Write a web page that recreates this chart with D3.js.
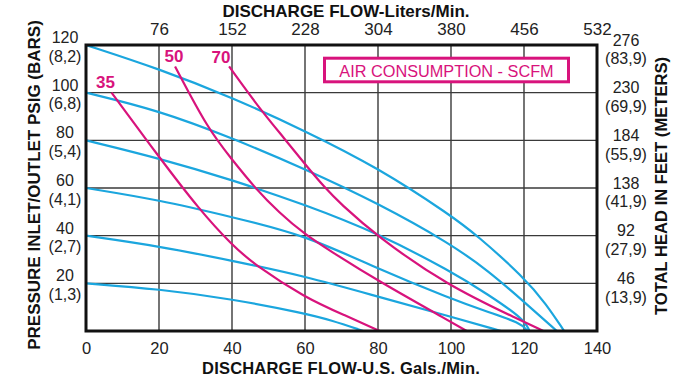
<!DOCTYPE html>
<html><head><meta charset="utf-8">
<script src="https://cdn.jsdelivr.net/npm/d3@7/dist/d3.min.js"></script>
<style>body{margin:0;background:#fff} svg{display:block}</style>
</head><body><svg id="c" width="700" height="385"></svg>
<script>
// ---- data ----
const flowGpmTicks = [0,20,40,60,80,100,120,140];
const flowLpmTicks = [76,152,228,304,380,456,532];
const psiTicks = [20,40,60,80,100,120];
const barLabels = ["(1,3)","(2,7)","(4,1)","(5,4)","(6,8)","(8,2)"];
const feetTicks = [46,92,138,184,230,276];
const meterLabels = ["(13,9)","(27,9)","(41,9)","(55,9)","(69,9)","(83,9)"];

// head curves: [U.S. gpm, psig]
const psi20  = [[0,20],[20,17.6],[40,13.4],[60,7.4],[67,4.6],[76,0]];
const psi40  = [[0,40],[20,35.6],[40,29.5],[60,23],[80,14.4],[100,6],[113.7,0]];
const psi60  = [[0,60],[20,55],[40,47.8],[60,40.3],[80,26],[100,13.5],[110,8],[119,3.5],[121,0]];
const psi80  = [[0,80],[20,72.5],[40,63.4],[60,53],[80,41],[100,25],[110,15.5],[120,5],[121.5,0]];
const psi100 = [[0,100],[20,92.5],[40,81],[60,68],[80,53.6],[100,36.5],[110,25.5],[120,12.3],[129,0]];
const psi120 = [[0,120],[20,110],[40,98],[60,84],[80,68.5],[100,48.5],[107,40.3],[120,22.5],[126,11.5],[131,0]];
const headCurves = [psi20, psi40, psi60, psi80, psi100, psi120];

// air consumption curves (SCFM)
const scfmLabels = ["35","50","70"];
const scfm35 = [[7,100],[20,73],[31,51],[40,36],[46.3,27.7],[60,14],[71,6.5],[80.5,0]];
const scfm50 = [[24.4,111],[33.5,84.5],[40,72],[46,60.5],[53,49.5],[60,40.5],[67,33.5],[80,21],[100,3.8],[104.3,0]];
const scfm70 = [[39.2,111],[47.2,94],[54.5,80.5],[60,70],[65.5,60],[69.6,53.6],[79.5,40],[99,19],[119.5,4.2],[125.3,0]];
const airCurves = [scfm35, scfm50, scfm70];

// ---- layout ----
const svg = d3.select("#c");
const L = 86, R = 597, T = 45, B = 331;
const x = d3.scaleLinear().domain([0,140]).range([L,R]);
const y = d3.scaleLinear().domain([0,120]).range([B,T]);
const xTop = d3.scaleLinear().domain([0,532]).range([L,R]);
const yRight = d3.scaleLinear().domain([0,276]).range([B,T]);

const BLUE = "#1ba6de", MAG = "#d8137c";
const numFont = "'Liberation Sans Narrow','Liberation Sans',Arial,sans-serif";
const boldFont = "'Liberation Sans',Arial,sans-serif";

// grid
const grid = svg.append("g").attr("stroke","#3a3a3a").attr("stroke-width",1.4);
grid.selectAll("line.v").data(flowGpmTicks.slice(1,-1)).join("line")
  .attr("x1",d=>x(d)).attr("x2",d=>x(d)).attr("y1",T).attr("y2",B);
grid.selectAll("line.h").data(psiTicks.slice(0,-1)).join("line")
  .attr("y1",d=>y(d)).attr("y2",d=>y(d)).attr("x1",L).attr("x2",R);

// clip
svg.append("clipPath").attr("id","clip").append("rect")
  .attr("x",L).attr("y",T).attr("width",R-L).attr("height",B-T);

const line = d3.line().x(d=>x(d[0])).y(d=>y(d[1])).curve(d3.curveBasis);
const curves = svg.append("g").attr("clip-path","url(#clip)").attr("fill","none");
curves.selectAll("path.h").data(headCurves).join("path")
  .attr("d",line).attr("stroke",BLUE).attr("stroke-width",2.2);
curves.selectAll("path.a").data(airCurves).join("path")
  .attr("d",line).attr("stroke",MAG).attr("stroke-width",2.2);

// border
svg.append("rect").attr("x",L).attr("y",T).attr("width",R-L).attr("height",B-T)
  .attr("fill","none").attr("stroke","#111").attr("stroke-width",3);

// bottom axis
const gb = svg.append("g").attr("transform",`translate(0,${B})`)
  .call(d3.axisBottom(x).tickValues(flowGpmTicks).tickSize(0).tickPadding(0));
gb.select(".domain").remove();
gb.selectAll("text").attr("dy",null).attr("y",23.3).attr("font-family",numFont).attr("font-size",16.5).attr("fill","#222");

// top axis
const gt = svg.append("g").attr("transform",`translate(0,${T})`)
  .call(d3.axisTop(xTop).tickValues(flowLpmTicks).tickSize(0).tickPadding(10));
gt.select(".domain").remove();
gt.selectAll("text").attr("font-family",numFont).attr("font-size",17).attr("fill","#222");

// left axis (psig + bars)
const gl = svg.append("g").attr("transform",`translate(${L},0)`)
  .call(d3.axisLeft(y).tickValues(psiTicks).tickSize(0).tickFormat(d=>d));
gl.select(".domain").remove();
gl.selectAll(".tick text").attr("x",-21).attr("dy",null).attr("y",-2.5)
  .attr("text-anchor","middle").attr("font-family",numFont).attr("font-size",16).attr("fill","#222");
gl.selectAll(".tick").append("text").text(d=>barLabels[psiTicks.indexOf(d)])
  .attr("x",-21).attr("y",16.2).attr("text-anchor","middle")
  .attr("font-family",numFont).attr("font-size",16).attr("fill","#222");

// right axis (feet + meters)
const gr = svg.append("g").attr("transform",`translate(${R},0)`)
  .call(d3.axisRight(yRight).tickValues(feetTicks).tickSize(0).tickFormat(d=>d));
gr.select(".domain").remove();
gr.selectAll(".tick text").attr("x",29).attr("dy",null).attr("y",0)
  .attr("text-anchor","middle").attr("font-family",numFont).attr("font-size",16).attr("fill","#222");
gr.selectAll(".tick").append("text").text(d=>meterLabels[feetTicks.indexOf(d)])
  .attr("x",29).attr("y",18.7).attr("text-anchor","middle")
  .attr("font-family",numFont).attr("font-size",16).attr("fill","#222");

// axis titles
svg.append("text").attr("x",346).attr("y",16.5).attr("text-anchor","middle")
  .attr("font-family",boldFont).attr("font-weight","bold").attr("font-size",17).attr("fill","#111")
  .text("DISCHARGE FLOW-Liters/Min.");
svg.append("text").attr("x",341).attr("y",374).attr("text-anchor","middle")
  .attr("font-family",boldFont).attr("font-weight","bold").attr("font-size",16.5)
  .attr("letter-spacing",0.2).attr("fill","#111")
  .text("DISCHARGE FLOW-U.S. Gals./Min.");
svg.append("text").attr("transform","translate(40,185) rotate(-90)").attr("text-anchor","middle")
  .attr("font-family",boldFont).attr("font-weight","bold").attr("font-size",17).attr("fill","#111")
  .text("PRESSURE INLET/OUTLET PSIG (BARS)");
svg.append("text").attr("transform","translate(667,186) rotate(-90)").attr("text-anchor","middle")
  .attr("font-family",boldFont).attr("font-weight","bold").attr("font-size",16.6).attr("fill","#111")
  .text("TOTAL HEAD IN FEET (METERS)");

// SCFM curve labels at curve starts
const labelDx = [-6,-1,-8], labelDy = [-5,-4,-3.5];
svg.selectAll("text.scfm").data(airCurves).join("text")
  .attr("x",(d,i)=>x(d[0][0])+labelDx[i]).attr("y",(d,i)=>y(d[0][1])+labelDy[i])
  .attr("text-anchor","middle").attr("font-family",boldFont).attr("font-weight","bold")
  .attr("font-size",17).attr("fill",MAG).text((d,i)=>scfmLabels[i]);

// legend box
svg.append("rect").attr("x",324.5).attr("y",58.2).attr("width",244).attr("height",23.6)
  .attr("fill","#fff").attr("stroke",MAG).attr("stroke-width",3);
svg.append("text").attr("x",446.5).attr("y",77).attr("text-anchor","middle")
  .attr("font-family",boldFont).attr("font-size",16.3).attr("fill",MAG)
  .text("AIR CONSUMPTION - SCFM");
</script></body></html>
